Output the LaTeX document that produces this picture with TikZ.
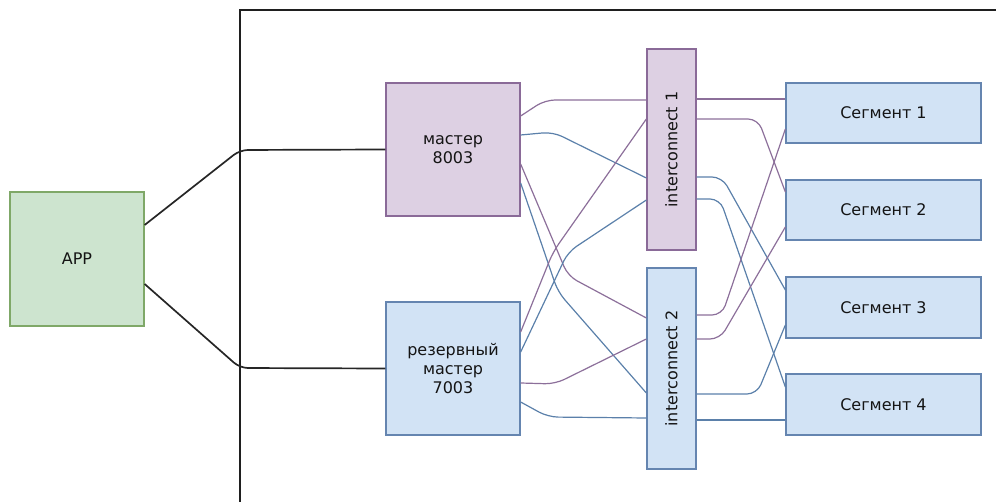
\documentclass[tikz,border=0pt]{standalone}
\usepackage{fontspec}
\setmainfont{DejaVu Sans}
\begin{document}
\begin{tikzpicture}[x=1pt,y=-1pt,
  box/.style={draw,line width=1.3pt,inner sep=0pt,align=center,font=\fontsize{16}{19}\selectfont,text=black!92},
  gbox/.style={box,fill=boxgreen,draw=bordgreen},
  pbox/.style={box,fill=boxpurple,draw=bordpurple},
  bbox/.style={box,fill=boxblue,draw=bordblue},
  vtext/.style={rotate=90,font=\fontsize{16}{19}\selectfont,text=black!92},
  aline/.style={line width=1.7pt,draw=black!85,rounded corners=8pt},
  pline/.style={line width=1.2pt,draw=linepurple,rounded corners=10pt},
  bline/.style={line width=1.2pt,draw=lineblue,rounded corners=10pt}]
\definecolor{boxgreen}{HTML}{CDE4CF}
\definecolor{bordgreen}{HTML}{7FA868}
\definecolor{boxpurple}{HTML}{DDD0E3}
\definecolor{bordpurple}{HTML}{8A6A98}
\definecolor{boxblue}{HTML}{D2E3F5}
\definecolor{bordblue}{HTML}{6585B0}
\definecolor{linepurple}{HTML}{8C6F9A}
\definecolor{lineblue}{HTML}{5B80AA}
\useasboundingbox (0,0) rectangle (996,502);
% frame
\draw[line width=1.7pt,draw=black!88] (240,502) -- (240,10) -- (996,10);
% nodes
\node[gbox,minimum width=134pt,minimum height=134pt] (app) at (77,259) {APP};
\node[pbox,minimum width=134pt,minimum height=133pt] (m8) at (453,149.5) {мастер\\8003};
\node[bbox,minimum width=134pt,minimum height=133pt] (m7) at (453,368.5) {резервный\\мастер\\7003};
\node[pbox,minimum width=49pt,minimum height=201pt] (ic1) at (671.5,149.5) {};
\node[vtext] (ic1t) at (ic1.center) {interconnect 1};
\node[bbox,minimum width=49pt,minimum height=201pt] (ic2) at (671.5,368.5) {};
\node[vtext] (ic2t) at (ic2.center) {interconnect 2};
\node[bbox,minimum width=195pt,minimum height=60pt] (s1) at (883.5,113) {Сегмент 1};
\node[bbox,minimum width=195pt,minimum height=60pt] (s2) at (883.5,210) {Сегмент 2};
\node[bbox,minimum width=195pt,minimum height=61pt] (s3) at (883.5,307.5) {Сегмент 3};
\node[bbox,minimum width=195pt,minimum height=61pt] (s4) at (883.5,404.5) {Сегмент 4};
% APP to masters
\draw[aline] (app.east |- 0,225) -- (240,150) -- (m8.west);
\draw[aline] (app.east |- 0,284) -- (240,368) -- (m7.west);
% masters to interconnects
\draw[pline] (m8.east |- 0,116) -- (545,100) -- (ic1.west |- 0,100);
\draw[bline] (m8.east |- 0,135) -- (553,132) -- (ic1.west |- 0,178);
\draw[pline] (m8.east |- 0,164) -- (568,276) -- (ic2.west |- 0,318);
\draw[bline] (m8.east |- 0,183) -- (558,292) -- (ic2.west |- 0,393);
\draw[pline] (m7.east |- 0,332) -- (553,252) -- (ic1.west |- 0,119);
\draw[bline] (m7.east |- 0,352) -- (568,252) -- (ic1.west |- 0,200);
\draw[pline] (m7.east |- 0,383) -- (555,384) -- (ic2.west |- 0,339);
\draw[bline] (m7.east |- 0,402) -- (548,417) -- (ic2.west |- 0,418);
% interconnects to segments
\draw[pline] (ic1.east |- 0,99) -- (s1.west |- 0,99);
\draw[pline] (ic1.east |- 0,119) -- (758,119) -- (s2.west |- 0,192);
\draw[bline] (ic1.east |- 0,177) -- (722,177) -- (s3.west |- 0,290);
\draw[bline] (ic1.east |- 0,199) -- (720,199) -- (s4.west |- 0,387);
\draw[pline] (ic2.east |- 0,315) -- (722,315) -- (s1.west |- 0,129);
\draw[pline] (ic2.east |- 0,339) -- (720,339) -- (s2.west |- 0,227);
\draw[bline] (ic2.east |- 0,394) -- (757,394) -- (s3.west |- 0,325);
\draw[bline] (ic2.east |- 0,420) -- (s4.west |- 0,420);
\end{tikzpicture}
\end{document}
